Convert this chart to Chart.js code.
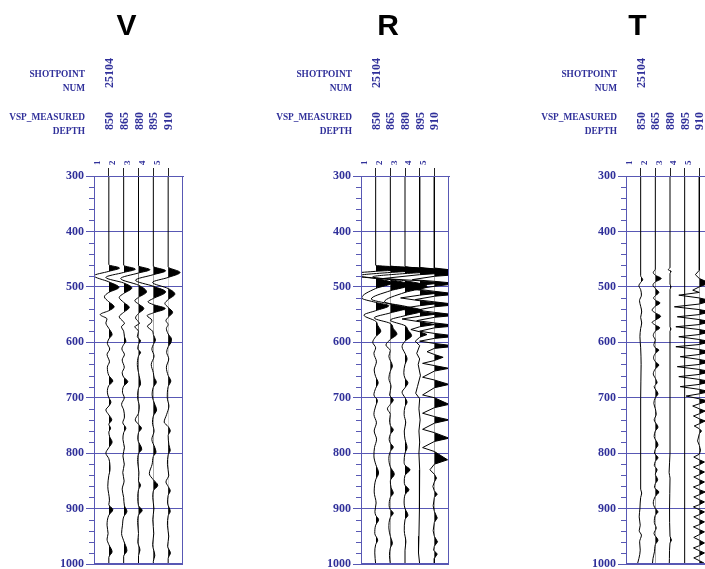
<!DOCTYPE html>
<html>
<head>
<meta charset="utf-8">
<script src="https://cdn.jsdelivr.net/npm/chart.js@4.4.1/dist/chart.umd.min.js"></script>
<style>
  html, body { margin: 0; padding: 0; background: #fff; width: 705px; height: 569px; overflow: hidden; }
  canvas { position: absolute; top: 0; }
</style>
</head>
<body>
<canvas id="paneV" width="193" height="569" style="left:0px"></canvas>
<canvas id="paneR" width="192" height="569" style="left:267px"></canvas>
<canvas id="paneT" width="192" height="569" style="left:532px"></canvas>
<script>
// ---- header / axis values ----
const PANEL_TITLES = ['V', 'R', 'T'];
const SHOTPOINT_NUM = '25104';
const MEASURED_DEPTHS = ['850', '865', '880', '895', '910'];
const TRACE_NUMBERS = [1, 2, 3, 4, 5];
const TIME_TICKS = [300, 400, 500, 600, 700, 800, 900, 1000];

// ---- traces: [time, amplitude in trace spacings] ----
const V1 = [[300,0],[460,0],[466,0.72],[472,0],[480,-1.0],[491,0],[501,0.68],[510,0],[518,-0.3],[527,0],[536,0.36],[543,0],[550,-0.58],[558,-0.12],[565,-0.2],[575,0],[586,0.22],[594,0],[602,-0.1],[612,0.06],[622,-0.12],[635,0.04],[645,-0.1],[660,0],[670,0.27],[678,0],[690,-0.1],[700,0],[708,0.14],[715,0],[722,-0.2],[731,0],[740,0.2],[748,0],[755,0.12],[762,0],[770,0.05],[780,0.22],[790,0],[800,-0.2],[810,0],[830,0.08],[840,0],[860,-0.07],[885,0.04],[893,0],[902,0.27],[912,0],[930,-0.12],[945,-0.05],[955,-0.12],[965,0],[978,0.22],[988,0],[1000,0]];
const V2 = [[300,0],[461,0],[468,0.79],[474,0],[483,-1.2],[493,0],[502,0.55],[512,0],[519,-0.3],[528,0],[537,0.38],[546,0],[554,-0.3],[562,-0.05],[566,0.05],[572,-0.15],[580,0],[590,0.05],[598,0.15],[604,0],[612,-0.12],[622,0.05],[632,-0.1],[645,0.04],[655,-0.1],[663,0],[671,0.28],[679,0],[690,-0.08],[700,0.04],[712,-0.14],[722,0],[735,0.05],[745,-0.06],[755,0.15],[763,0],[775,-0.05],[790,0.05],[805,-0.05],[820,0.04],[835,-0.06],[850,0.03],[865,-0.1],[880,0],[895,0.05],[905,0.22],[915,0],[930,-0.08],[945,-0.14],[958,0],[976,0.22],[986,0],[1000,0]];
const V3 = [[300,0],[462,0],[469,0.77],[475,0],[485,-1.2],[497,0],[509,0.54],[519,0],[525,-0.25],[531,0],[539,0.36],[548,0],[556,-0.2],[563,0],[566,0.06],[572,-0.25],[580,0],[590,-0.08],[597,0.14],[604,0],[612,-0.05],[618,0.14],[625,0],[640,-0.08],[660,0.04],[675,0.14],[683,0],[700,-0.06],[715,0.05],[728,0],[740,-0.22],[748,0],[755,0.2],[763,0],[775,-0.05],[793,0.22],[801,0],[815,-0.06],[835,0.03],[850,0],[858,0.14],[866,0],[880,-0.05],[895,0],[903,0.25],[912,0],[925,-0.06],[945,0],[960,-0.05],[975,0.1],[985,0],[1000,0]];
const V4 = [[300,0],[463,0],[471,0.83],[478,0],[488,-1.2],[499,0],[509,0.83],[521,0],[527,-0.36],[532,0],[539,0.8],[547,0],[552,-0.42],[560,-0.1],[565,-0.15],[571,-0.4],[580,-0.05],[586,0],[596,0.14],[604,0],[612,-0.1],[625,0.05],[640,-0.14],[655,0],[663,0.05],[672,0.2],[681,0],[695,-0.08],[705,0],[712,0.1],[722,0.22],[733,0],[745,-0.06],[760,0.05],[775,-0.1],[790,0.1],[798,0.18],[806,0],[820,-0.08],[837,-0.27],[848,0],[858,0.3],[868,0],[880,-0.04],[900,0.04],[920,-0.04],[945,0.03],[965,-0.05],[985,0.1],[995,0],[1000,0]];
const V5 = [[300,0],[464,0],[474,0.8],[483,0],[492,-1.05],[503,0],[513,0.45],[523,0],[530,-0.22],[537,0],[546,0.3],[555,0],[561,-0.15],[568,0],[575,-0.12],[585,0],[594,0.22],[601,0.18],[608,0],[618,-0.1],[630,0.04],[645,-0.12],[660,0],[670,0.18],[680,0],[700,-0.06],[715,0.05],[730,-0.1],[744,-0.27],[752,0],[760,0.14],[768,0],[785,0.05],[795,0.14],[803,0],[820,-0.05],[840,0.04],[852,-0.15],[860,0],[868,0.14],[876,0],[890,-0.04],[905,0.14],[913,0],[930,-0.05],[950,0.04],[968,-0.04],[980,0.15],[990,0],[1000,0]];

const R1 = [[300,0],[461,0],[467,3.0],[472,0],[478,-2.2],[485,0],[493,1.1],[503,0],[520,-0.95],[528,0],[534,0.9],[543,0],[551,-0.8],[562,0],[570,0.15],[580,0.35],[590,0],[600,-0.2],[610,0],[620,-0.12],[635,0.05],[650,-0.1],[662,0],[673,0.17],[683,0],[695,-0.12],[705,0.12],[715,0],[730,-0.12],[745,0.05],[760,-0.1],[775,0.06],[790,-0.08],[805,-0.12],[820,0],[836,0.2],[848,0],[870,-0.1],[890,0.03],[905,-0.05],[912,0],[920,0.2],[930,0],[945,-0.06],[957,0.14],[965,0],[980,-0.06],[1000,0]];
const R2 = [[300,0],[462,0],[469,3.0],[474,0],[480,-2.2],[487,0],[497,1.3],[507,0],[522,-1.3],[531,0],[538,1.1],[547,0],[556,-1.1],[566,0],[575,0.2],[585,0.45],[595,0],[605,-0.3],[615,0],[625,-0.1],[643,0.14],[652,0],[665,-0.1],[680,0.05],[695,-0.05],[704,0.2],[712,0],[720,-0.2],[730,0],[740,-0.05],[750,0],[758,0.2],[766,0],[775,-0.08],[782,0],[789,0.2],[797,0],[810,-0.1],[825,0],[838,0.27],[850,0],[862,0.05],[872,0.2],[880,0],[895,-0.08],[902,0],[908,0.2],[916,0],[935,-0.1],[950,0],[963,0.14],[971,0],[985,-0.06],[1000,0]];
const R3 = [[300,0],[463,0],[471,3.0],[476,0],[482,-2.2],[489,0],[499,1.5],[510,0],[527,-1.4],[535,0],[543,1.2],[552,0],[560,-1.0],[570,0],[578,0.2],[588,0.45],[598,0],[608,-0.2],[620,0],[630,0.14],[640,0],[655,-0.08],[665,0],[673,0.2],[682,0],[690,-0.2],[700,0],[708,0.14],[716,0],[730,-0.06],[745,0.05],[760,-0.05],[775,0],[790,0.14],[800,0],[815,-0.06],[822,0],[830,0.34],[840,0],[852,-0.05],[858,0],[866,0.27],[875,0],[890,-0.06],[900,0],[912,0.2],[920,0],[940,-0.05],[960,0.06],[975,0],[1000,0]];
const R4 = [[300,0],[465,0],[473,3.0],[478,0],[485,-2.5],[489,0],[493,1.5],[497,0],[502,-1.0],[506,0],[511,1.4],[515,0],[520,-1.3],[525,0],[530,1.3],[534,0],[540,-1.55],[544,0],[549,1.2],[553,0],[558,-1.2],[563,0],[568,1.0],[572,0],[577,-0.6],[581,0],[586,0.5],[591,0],[598,-0.3],[606,0],[620,-0.2],[630,0],[640,-0.1],[660,0.05],[680,-0.15],[692,-0.27],[702,0],[720,-0.05],[740,0.03],[760,-0.05],[780,0],[800,-0.05],[830,0],[860,-0.03],[900,0],[950,-0.05],[980,-0.08],[1000,0]];
const R5 = [[300,0],[466,0],[475,3.0],[481,0],[487,-1.5],[490,0],[494,1.6],[499,0],[504,-1.2],[508,0],[513,1.6],[517,0],[523,-1.3],[527,0],[532,1.6],[536,0],[542,-1.2],[546,0],[551,1.6],[555,0],[561,-1.2],[565,0],[570,1.6],[574,0],[580,-1.0],[584,0],[589,1.6],[593,0],[598,-1.0],[602,0],[607,1.5],[611,0],[617,-0.5],[622,0],[627,0.6],[633,0],[638,-0.8],[642,0],[647,1.0],[652,0],[663,-0.8],[668,0],[676,1.0],[682,0],[695,-0.8],[700,0],[712,1.0],[718,0],[728,-0.8],[734,0],[740,1.0],[746,0],[757,-0.8],[763,0],[773,1.0],[779,0],[790,-0.8],[797,0],[812,0.9],[820,0],[830,-0.3],[838,0],[845,0.15],[852,0],[860,-0.1],[868,0],[874,0.2],[880,0],[895,-0.08],[905,0],[917,0.2],[925,0],[940,-0.08],[950,0],[960,0.22],[968,0],[975,-0.05],[982,0.2],[990,0],[1000,0]];

const T1 = [[300,0],[480,0],[487,0.14],[492,0],[498,-0.12],[505,0],[515,0.05],[525,-0.08],[535,0],[545,0.07],[555,0],[565,0.07],[575,0],[590,-0.05],[610,0],[640,0.03],[700,0],[865,0],[872,0.07],[880,0],[900,-0.05],[915,-0.1],[930,-0.03],[940,-0.1],[948,0.05],[960,-0.07],[975,-0.03],[990,-0.12],[1000,-0.22]];
const T2 = [[300,0],[468,0],[474,-0.14],[479,0],[485,0.4],[491,0],[497,-0.16],[503,0],[510,0.24],[516,0],[520,-0.12],[524,0],[529,0.32],[535,0],[542,-0.22],[547,0],[553,0.36],[560,0],[564,-0.22],[569,0],[574,0.3],[580,0],[588,-0.14],[596,0],[604,-0.1],[610,0],[614,0.24],[620,0],[628,-0.12],[635,0],[641,0.24],[648,0],[657,-0.14],[665,0],[673,0.12],[680,-0.08],[693,0.18],[700,0],[710,-0.1],[720,0],[730,0.06],[740,-0.08],[753,0.18],[760,0],[770,-0.08],[785,0.18],[793,0],[800,-0.06],[808,0.18],[815,0],[822,-0.07],[830,0.12],[838,0],[848,0.16],[855,0],[862,-0.06],[870,0.24],[878,0],[890,-0.14],[900,0],[906,0.18],[912,0],[925,-0.07],[935,0.06],[945,-0.09],[957,0.18],[965,0],[978,-0.06],[990,-0.16],[1000,-0.2]];
const T3 = [[300,0],[465,0],[469,-0.12],[472,0.08],[476,0],[495,0],[500,0.07],[505,0],[572,0],[576,0.07],[580,0],[800,0],[835,-0.06],[845,0],[900,-0.03],[950,0],[957,0.1],[962,0],[990,-0.04],[1000,-0.05]];
const T4 = [[300,0],[1000,0]];
const T5 = [[300,0],[470,0],[478,-0.27],[485,0],[493,0.7],[500,0],[506,-0.45],[510,0],
  [515,-1.4],[520,0],[525,0.8],[531,0],[536,-1.7],[541,0],[545,0.8],[550,0],[554,-1.5],[559,0],[563,0.8],[568,0],
  [572,-1.6],[577,0],[581,0.8],[586,0],[590,-1.4],[595,0],[599,0.8],[604,0],[608,-1.6],[613,0],[617,0.8],[622,0],
  [626,-1.3],[631,0],[635,0.8],[640,0],[644,-1.5],[649,0],[653,0.8],[658,0],[662,-1.4],[667,0],[671,0.8],[676,0],
  [680,-1.3],[685,0],[689,0.7],[693,0],[697,-0.9],[702,0],[706,0.6],[711,0],[715,-0.45],[720,0],[724,0.4],[729,0],
  [733,-0.4],[738,0],[742,0.4],[747,0],[751,-0.35],[756,0],[760,0.15],[765,0],[778,-0.12],[786,0],[795,0.08],[802,0],
  [807,-0.38],[812,0],[816,0.35],[821,0],[825,-0.4],[830,0],[834,0.35],[839,0],[843,-0.38],[848,0],[852,0.35],[857,0],
  [861,-0.4],[866,0],[870,0.4],[875,0],[879,-0.38],[884,0],[888,0.35],[893,0],[897,-0.4],[902,0],[906,0.35],[911,0],
  [915,-0.38],[920,0],[924,0.35],[929,0],[933,-0.4],[938,0],[942,0.35],[947,0],[952,-0.38],[957,0],[962,0.35],[967,0],
  [971,-0.4],[976,0],[980,0.35],[985,0],[989,-0.38],[994,0],[998,0.3],[1000,0.2]];

const TEXT_BLUE = '#30309a';
const AXIS_BLUE = '#5858b4';
const SERIF = '"Liberation Serif", "DejaVu Serif", serif';

// positive half of each wiggle is painted black: a hard-stop gradient
// that is transparent left of the trace baseline and black right of it
function positiveSide(k) {
  return (c) => {
    const ch = c.chart, a = ch.chartArea;
    if (!a || !ch.scales.x) return 'rgba(0,0,0,0)';
    const px = ch.scales.x.getPixelForValue(k);
    const f = Math.min(1, Math.max(0, (px - a.left) / (a.right - a.left)));
    const g = ch.ctx.createLinearGradient(a.left, 0, a.right, 0);
    g.addColorStop(0, 'rgba(0,0,0,0)');
    g.addColorStop(f, 'rgba(0,0,0,0)');
    g.addColorStop(f, '#000');
    g.addColorStop(1, '#000');
    return g;
  };
}

const framePlugin = {
  id: 'frame',
  afterDraw(chart) {
    const {ctx, chartArea: a, scales: {y}} = chart;
    ctx.save();
    ctx.strokeStyle = AXIS_BLUE;
    ctx.lineWidth = 1;
    ctx.beginPath();
    for (let v = TIME_TICKS[0]; v <= TIME_TICKS[TIME_TICKS.length - 1]; v += 20) {
      if (v % 100 === 0) continue;
      const py = Math.round(y.getPixelForValue(v)) + 0.5;
      ctx.moveTo(a.left - 5, py);
      ctx.lineTo(a.left, py);
    }
    ctx.stroke();
    ctx.strokeRect(a.left + 0.5, a.top + 0.5, a.right - a.left - 1, a.bottom - a.top - 1);
    ctx.restore();
  }
};

const headerPlugin = {
  id: 'header',
  afterDraw(chart, args, opts) {
    const {ctx, chartArea: a, scales: {x}} = chart;
    ctx.save();
    ctx.fillStyle = '#000';
    ctx.font = 'bold 30px "Liberation Sans", Arial, sans-serif';
    ctx.textAlign = 'center';
    ctx.textBaseline = 'alphabetic';
    ctx.fillText(opts.title, opts.titleX, 35);

    ctx.fillStyle = TEXT_BLUE;
    ctx.font = 'bold 11px ' + SERIF;
    ctx.textAlign = 'right';
    const rx = a.left - 9;
    [['SHOTPOINT', 77], ['NUM', 91], ['VSP_MEASURED', 120], ['DEPTH', 134]].forEach(([s, yy]) => {
      ctx.fillText(s, rx, yy, ctx.measureText(s).width * 0.85);
    });

    ctx.font = 'bold 12px ' + SERIF;
    ctx.textAlign = 'left';
    const upright = (s, px, yStart) => {
      ctx.save();
      ctx.translate(px + 4, yStart);
      ctx.rotate(-Math.PI / 2);
      ctx.fillText(s, 0, 0);
      ctx.restore();
    };
    upright(SHOTPOINT_NUM, x.getPixelForValue(TRACE_NUMBERS[0]), 88);
    MEASURED_DEPTHS.forEach((d, i) => upright(d, x.getPixelForValue(TRACE_NUMBERS[i]), 130));
    ctx.restore();
  }
};

// sharpTraces: indices of traces drawn with straight segments (spiky ringing)
function makePane(canvasId, title, titleX, traces, plotWidth, sharpTraces) {
  const datasets = traces.map((tr, i) => {
    const k = TRACE_NUMBERS[i];
    const sharp = sharpTraces.includes(i);
    return {
      data: tr.map(([t, amp]) => ({x: k + amp, y: t})),
      borderColor: '#000',
      borderWidth: 1,
      pointRadius: 0,
      tension: sharp ? 0 : 0.4,
      cubicInterpolationMode: sharp ? 'default' : 'monotone',
      fill: {target: {value: k}},
      backgroundColor: positiveSide(k)
    };
  });
  const canvas = document.getElementById(canvasId);
  return new Chart(canvas, {
    type: 'line',
    data: {datasets},
    options: {
      responsive: false,
      animation: false,
      events: [],
      indexAxis: 'y',
      layout: {autoPadding: false, padding: {top: 0, left: 0, right: canvas.width - 94 - plotWidth, bottom: 5}},
      plugins: {
        legend: {display: false},
        tooltip: {enabled: false},
        header: {title, titleX}
      },
      scales: {
        x: {
          type: 'linear',
          position: 'top',
          min: 0,
          max: TRACE_NUMBERS.length + 1,
          afterBuildTicks: (s) => { s.ticks = TRACE_NUMBERS.map(v => ({value: v})); },
          afterFit: (s) => { s.height = 176; s.paddingLeft = 0; s.paddingRight = 0; },
          grid: {drawOnChartArea: false, tickLength: 8, color: '#222', lineWidth: 1},
          border: {display: true, color: AXIS_BLUE},
          ticks: {
            minRotation: 90, maxRotation: 90, padding: 3, autoSkip: false,
            color: TEXT_BLUE, font: {family: SERIF, size: 9, weight: 'bold'},
            callback: (v) => String(v)
          }
        },
        y: {
          type: 'linear',
          reverse: true,
          min: TIME_TICKS[0],
          max: TIME_TICKS[TIME_TICKS.length - 1],
          z: 1,
          afterBuildTicks: (s) => { s.ticks = TIME_TICKS.map(v => ({value: v})); },
          afterFit: (s) => { s.width = 94; s.paddingTop = 0; s.paddingBottom = 0; },
          grid: {color: AXIS_BLUE, tickLength: 8, lineWidth: 1},
          border: {display: true, color: AXIS_BLUE},
          ticks: {
            padding: 2, color: TEXT_BLUE, font: {family: SERIF, size: 12, weight: 'bold'},
            callback: (v) => String(v)
          }
        }
      }
    },
    plugins: [framePlugin, headerPlugin]
  });
}

makePane('paneV', PANEL_TITLES[0], 126.5, [V1, V2, V3, V4, V5], 89, []);
makePane('paneR', PANEL_TITLES[1], 121, [R1, R2, R3, R4, R5], 88, [3, 4]);
makePane('paneT', PANEL_TITLES[2], 105.5, [T1, T2, T3, T4, T5], 88, [4]);
</script>
</body>
</html>
